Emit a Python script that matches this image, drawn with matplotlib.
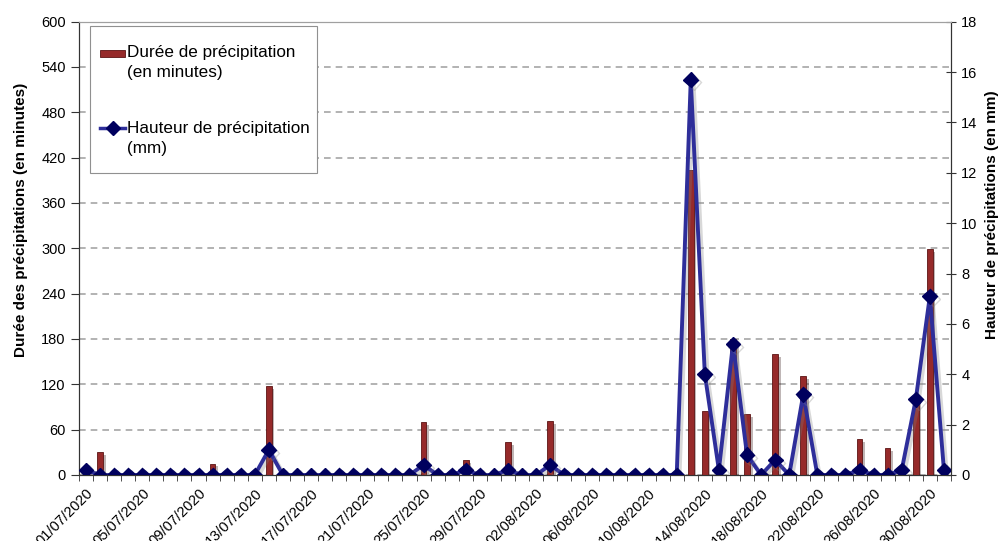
import numpy as np
import pandas as pd
import matplotlib
matplotlib.use('Agg')
import matplotlib.pyplot as plt
import matplotlib.patheffects as pe
from matplotlib.lines import Line2D
from matplotlib.patches import Rectangle

plt.rcParams['font.family'] = ['Liberation Sans', 'DejaVu Sans']

# jours du 01/07/2020 au 31/08/2020
jours = pd.date_range('2020-07-01', '2020-08-31', freq='D')
labels = [d.strftime('%d/%m/%Y') for d in jours]

# durée de précipitation (minutes)
duree = [8, 30, 0, 0, 0, 0, 0, 0, 0, 15,
         0, 0, 0, 118, 0, 0, 0, 0, 0, 0,
         0, 0, 0, 0, 70, 0, 0, 20, 0, 0,
         44, 0, 0, 71, 0, 0, 0, 0, 0, 0,
         0, 0, 0, 403, 85, 0, 180, 81, 0, 160,
         0, 131, 0, 0, 0, 48, 0, 36, 0, 100,
         299, 0]

# hauteur de précipitation (mm)
hauteur = [0.2, 0, 0, 0, 0, 0, 0, 0, 0, 0,
           0, 0, 0, 1.0, 0, 0, 0, 0, 0, 0,
           0, 0, 0, 0, 0.4, 0, 0, 0.2, 0, 0,
           0.2, 0, 0, 0.4, 0, 0, 0, 0, 0, 0,
           0, 0, 0, 15.7, 4.0, 0.2, 5.2, 0.8, 0, 0.6,
           0, 3.2, 0, 0, 0, 0.2, 0, 0, 0.2, 3.0,
           7.1, 0.2]

x = np.arange(len(jours))

bar_col = '#962a2a'
bar_edge = '#5c1414'
line_col = '#2e2e9a'
mark_col = '#00005e'

W, H = 1001, 541
fig = plt.figure(figsize=(W / 100, H / 100), dpi=100)
ax = fig.add_axes([0.0789, 0.122, 0.8711, 0.838])
ax2 = ax.twinx()


def fx(px):
    return px / W


def fy(py):
    return 1 - py / H


# barres (axe gauche)
ax.bar(x, duree, width=0.4, color=bar_col, edgecolor=bar_edge, linewidth=0.6,
       zorder=3,
       path_effects=[pe.SimplePatchShadow(offset=(2, -2), alpha=0.3), pe.Normal()])
ax.set_ylim(0, 600)
ax.set_yticks(np.arange(0, 601, 60))
ax.set_xlim(-0.5, len(jours) - 0.5)
ax.set_axisbelow(True)
ax.yaxis.grid(True, color='#a6a6a6', linestyle=(0, (4, 3)), linewidth=1.2)
ax.set_xticks(x[::4])
ax.set_xticklabels(labels[::4], rotation=45, ha='right', va='top',
                   rotation_mode='anchor', fontsize=10.5)
ax.set_xticks(np.arange(-0.5, len(jours), 1), minor=True)
ax.tick_params(axis='x', which='major', length=0, pad=8)
ax.tick_params(axis='x', which='minor', length=4, direction='out', color='#333333')
ax.tick_params(axis='y', length=6, direction='out', labelsize=10.5, color='#333333')

# ligne (axe droit)
ax2.plot(x, hauteur, color=line_col, linewidth=2.8, marker='D', markersize=7.5,
         markerfacecolor=mark_col, markeredgecolor=mark_col, zorder=4,
         path_effects=[pe.SimpleLineShadow(offset=(2, -2), shadow_color='gray',
                                           alpha=0.3), pe.Normal()])
ax2.set_ylim(0, 18)
ax2.set_yticks(np.arange(0, 19, 2))
ax2.tick_params(axis='y', length=7, direction='inout', labelsize=10.5,
                color='#333333', pad=4)

for a in (ax, ax2):
    a.spines['top'].set_color('#a0a0a0')
    a.spines['left'].set_color('#333333')
    a.spines['right'].set_color('#333333')
    a.spines['bottom'].set_color('#333333')

# titres des axes
fig.text(fx(21), fy(220), 'Durée des précipitations (en minutes)', rotation=90,
         ha='center', va='center', fontsize=11, fontweight='bold')
fig.text(fx(992), fy(215), 'Hauteur de précipitations (en mm)', rotation=90,
         ha='center', va='center', fontsize=11, fontweight='bold')

# légende
fig.patches.append(Rectangle((fx(90), fy(173)), fx(227), 147 / H,
                             transform=fig.transFigure, facecolor='white',
                             edgecolor='#909090', linewidth=0.8, zorder=5))
fig.patches.append(Rectangle((fx(100), fy(56.5)), fx(25), 6.5 / H,
                             transform=fig.transFigure, facecolor=bar_col,
                             edgecolor=bar_edge, linewidth=0.6, zorder=6))
fig.lines.append(Line2D([fx(100), fx(125)], [fy(128), fy(128)],
                        transform=fig.transFigure, color=line_col, linewidth=2.5,
                        zorder=6))
fig.lines.append(Line2D([fx(113)], [fy(128)], transform=fig.transFigure,
                        marker='D', markersize=7, color=mark_col, zorder=7))
leg_txt = [('Durée de précipitation', 53), ('(en minutes)', 73),
           ('Hauteur de précipitation', 128), ('(mm)', 148)]
for t, py in leg_txt:
    fig.text(fx(127), fy(py), t, ha='left', va='center', fontsize=12.3, zorder=8)

fig.savefig('out.png', dpi=100)
